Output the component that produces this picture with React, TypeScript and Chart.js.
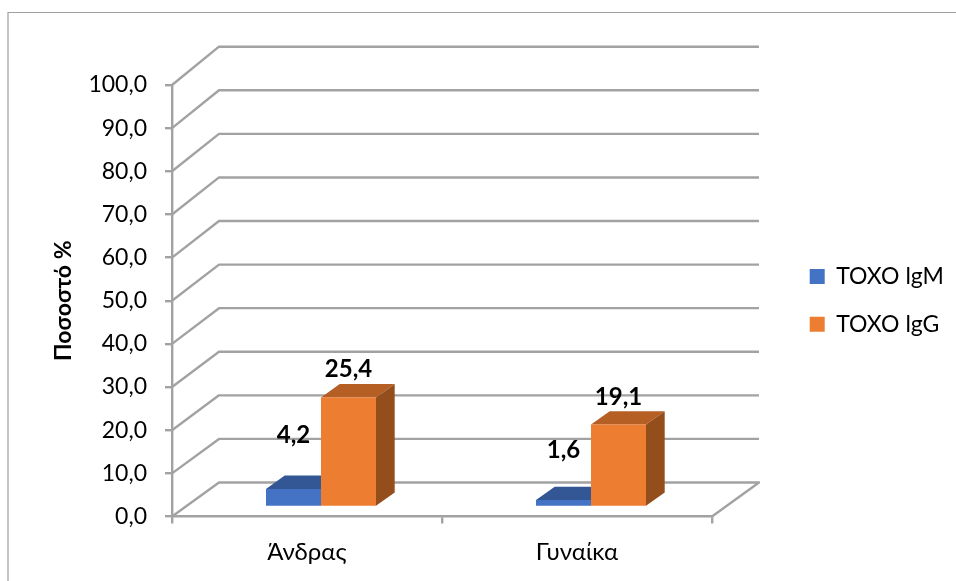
import React, { useEffect, useRef } from "react";
import { Chart, registerables } from "chart.js";

Chart.register(...registerables);

const categories = ["Άνδρας", "Γυναίκα"];
const toxoIgM = [4.2, 1.6];
const toxoIgG = [25.4, 19.1];
const seriesNames = ["TOXO lgM", "TOXO lgG"];
const axisTitle = "Ποσοστό %";

const FONT = '"Lato", "Open Sans", sans-serif';
const GRID = "#a2a2a2";

// Oblique projection of the 3D box: back wall offset and bar placement inside the box.
const WALL_DX = 47;
const WALL_DY = -34;
const WALL_STRETCH = 1.01;
const BAR_SHIFT_X = 14;
const BAR_SHIFT_Y = -9.5;
const BAR_DX = 18.7;
const BAR_DY = -13.4;

const faceShades = [
  { top: "#335694", side: "#2b4a80" },
  { top: "#b55f24", side: "#944e1c" },
];
const labelLift = [
  [54, 50],
  [28, 27],
];

const formatValue = (v: number) => v.toFixed(1).replace(".", ",");

function poly(ctx: CanvasRenderingContext2D, pts: number[][], fill: string) {
  ctx.fillStyle = fill;
  ctx.beginPath();
  pts.forEach(([x, y], i) => (i ? ctx.lineTo(x, y) : ctx.moveTo(x, y)));
  ctx.closePath();
  ctx.fill();
}

const boxPlugin = {
  id: "box3d",
  beforeLayout(chart: any) {
    // Reserve the full strip right of the plot for the legend.
    const legend = chart.legend;
    if (legend) {
      legend.fit = function () {
        Object.getPrototypeOf(this).fit.call(this);
        this.width = 244;
      };
    }
  },
  afterLayout(chart: any) {
    const legend = chart.legend;
    if (legend) {
      legend.left = 785;
      legend.right = 956;
      legend.top = 240.3;
      legend.bottom = 581;
    }
  },
  beforeDraw(chart: any) {
    const { ctx } = chart;
    ctx.save();
    ctx.strokeStyle = "#a0a0a0";
    ctx.lineWidth = 1.2;
    ctx.beginPath();
    ctx.moveTo(8, 581);
    ctx.lineTo(8, 12.5);
    ctx.lineTo(956, 12.5);
    ctx.stroke();
    ctx.restore();
  },
  beforeDatasetsDraw(chart: any) {
    const { ctx, chartArea, scales } = chart;
    const y = scales.y;
    const base = y.getPixelForValue(0);
    ctx.save();
    ctx.strokeStyle = GRID;
    ctx.lineWidth = 2.4;
    ctx.lineJoin = "round";
    y.ticks.forEach((t: any) => {
      const py = y.getPixelForValue(t.value);
      const by = base + WALL_DY - (base - py) * WALL_STRETCH;
      ctx.beginPath();
      ctx.moveTo(chartArea.left, py);
      ctx.lineTo(chartArea.left + WALL_DX, by);
      ctx.lineTo(chartArea.right + WALL_DX, by);
      if (t.value === 0) ctx.lineTo(chartArea.right, base);
      ctx.stroke();
    });
    ctx.restore();
  },
  beforeDatasetDraw(chart: any, args: any) {
    const { ctx } = chart;
    const shade = faceShades[args.index];
    // A bar with a neighbour on its right shows no side face; its top stops at the neighbour.
    const hidden = args.index < chart.data.datasets.length - 1;
    ctx.save();
    ctx.translate(BAR_SHIFT_X, BAR_SHIFT_Y);
    args.meta.data.forEach((bar: any) => {
      const l = bar.x - bar.width / 2;
      const r = bar.x + bar.width / 2;
      const t = bar.y;
      const b = bar.base;
      const topRight = hidden ? r : r + BAR_DX;
      poly(ctx, [[l, t], [l + BAR_DX, t + BAR_DY], [topRight, t + BAR_DY], [r, t]], shade.top);
      if (!hidden) {
        poly(ctx, [[r, t], [r + BAR_DX, t + BAR_DY], [r + BAR_DX, b + BAR_DY], [r, b]], shade.side);
      }
    });
  },
  afterDatasetDraw(chart: any) {
    chart.ctx.restore();
  },
  afterDatasetsDraw(chart: any) {
    const { ctx } = chart;
    ctx.save();
    ctx.fillStyle = "#000";
    ctx.font = `bold 24px ${FONT}`;
    ctx.textAlign = "center";
    ctx.textBaseline = "middle";
    chart.data.datasets.forEach((ds: any, i: number) => {
      chart.getDatasetMeta(i).data.forEach((bar: any, j: number) => {
        ctx.fillText(formatValue(ds.data[j]), bar.x + BAR_SHIFT_X, bar.y + BAR_SHIFT_Y - labelLift[i][j]);
      });
    });
    ctx.restore();
  },
};

export default function App() {
  const ref = useRef<HTMLCanvasElement>(null);

  useEffect(() => {
    const chart = new Chart(ref.current as HTMLCanvasElement, {
      type: "bar",
      plugins: [boxPlugin],
      data: {
        labels: categories,
        datasets: [
          { label: seriesNames[0], data: toxoIgM, backgroundColor: "#4472c4" },
          { label: seriesNames[1], data: toxoIgG, backgroundColor: "#ed7d31" },
        ],
      },
      options: {
        responsive: false,
        animation: false,
        layout: { autoPadding: false, padding: { top: 85, left: 40, right: 0, bottom: 0 } },
        datasets: { bar: { barPercentage: 1, categoryPercentage: 110 / 270 } },
        plugins: {
          tooltip: { enabled: false },
          legend: {
            position: "right",
            align: "start",
            labels: {
              boxWidth: 15,
              boxHeight: 15,
              padding: 24.7,
              color: "#000",
              font: { family: FONT, size: 23 },
            },
          },
        },
        scales: {
          x: {
            afterFit(s: any) {
              s.height = 64.5;
            },
            grid: { drawOnChartArea: false, drawTicks: true, tickLength: 7, color: GRID, lineWidth: 2.4 },
            border: { color: GRID, width: 2.4 },
            ticks: { color: "#000", padding: 14, font: { family: FONT, size: 24 } },
          },
          y: {
            min: 0,
            max: 100,
            afterFit(s: any) {
              s.width = 132;
            },
            grid: { drawOnChartArea: false, drawTicks: true, tickLength: 7, color: GRID, lineWidth: 2.4 },
            border: { color: GRID, width: 2.4 },
            ticks: {
              stepSize: 10,
              color: "#000",
              padding: 18,
              font: { family: FONT, size: 23 },
              callback: (v: any) => formatValue(Number(v)),
            },
            title: {
              display: true,
              text: axisTitle,
              color: "#000",
              padding: { top: 10, bottom: 0 },
              font: { family: FONT, size: 23, weight: "bold" },
            },
          },
        },
      },
    } as any);
    return () => chart.destroy();
  }, []);

  return (
    <div style={{ position: "absolute", left: 0, top: 0, width: 956, height: 581, background: "#fff" }}>
      <canvas ref={ref} width={956} height={581} style={{ display: "block" }} />
    </div>
  );
}
